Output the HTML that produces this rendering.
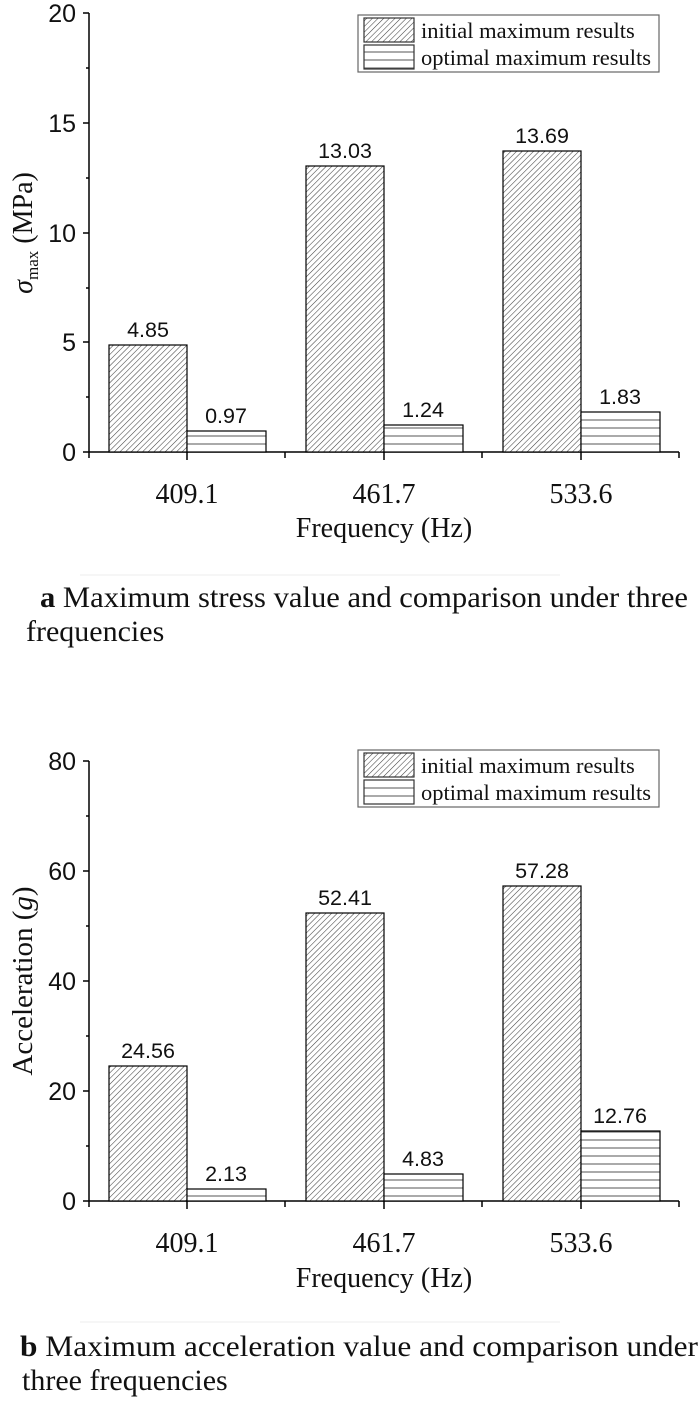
<!DOCTYPE html>
<html><head><meta charset="utf-8"><style>
body{margin:0;background:#fff;overflow:hidden}
svg{display:block}
.s{font-family:"Liberation Sans",sans-serif}
.r{font-family:"Liberation Serif",serif}
</style></head><body>
<svg width="700" height="1414" viewBox="0 0 700 1414" xmlns="http://www.w3.org/2000/svg">
<defs>
<pattern id="d" patternUnits="userSpaceOnUse" width="4" height="4" patternTransform="rotate(45)">
<rect width="4" height="4" fill="#fff"/><line x1="0" y1="0" x2="0" y2="4" stroke="#444" stroke-width="1.1"/>
</pattern>
<pattern id="h" patternUnits="userSpaceOnUse" width="8" height="8" y="0">
<rect width="8" height="8" fill="#fff"/><line x1="0" y1="4" x2="8" y2="4" stroke="#555" stroke-width="1"/>
</pattern>
</defs>
<g stroke="#000" stroke-width="1.5" fill="none">
<line x1="89" y1="13" x2="89" y2="452"/>
<line x1="89" y1="452" x2="679" y2="452"/>
<line x1="83" y1="13" x2="89" y2="13"/><line x1="83" y1="123" x2="89" y2="123"/><line x1="83" y1="233" x2="89" y2="233"/><line x1="83" y1="342" x2="89" y2="342"/><line x1="83" y1="452" x2="89" y2="452"/>
<line x1="86" y1="68" x2="89" y2="68"/><line x1="86" y1="178" x2="89" y2="178"/><line x1="86" y1="288" x2="89" y2="288"/><line x1="86" y1="397" x2="89" y2="397"/>
<line x1="89" y1="452" x2="89" y2="458"/><line x1="187" y1="452" x2="187" y2="460"/><line x1="285" y1="452" x2="285" y2="458"/><line x1="384" y1="452" x2="384" y2="460"/><line x1="482" y1="452" x2="482" y2="458"/><line x1="581" y1="452" x2="581" y2="460"/><line x1="679" y1="452" x2="679" y2="458"/>
<line x1="89" y1="761" x2="89" y2="1201"/>
<line x1="89" y1="1201" x2="679" y2="1201"/>
<line x1="83" y1="761" x2="89" y2="761"/><line x1="83" y1="871" x2="89" y2="871"/><line x1="83" y1="981" x2="89" y2="981"/><line x1="83" y1="1091" x2="89" y2="1091"/><line x1="83" y1="1201" x2="89" y2="1201"/>
<line x1="86" y1="816" x2="89" y2="816"/><line x1="86" y1="926" x2="89" y2="926"/><line x1="86" y1="1036" x2="89" y2="1036"/><line x1="86" y1="1146" x2="89" y2="1146"/>
<line x1="89" y1="1201" x2="89" y2="1207"/><line x1="187" y1="1201" x2="187" y2="1209"/><line x1="285" y1="1201" x2="285" y2="1207"/><line x1="384" y1="1201" x2="384" y2="1209"/><line x1="482" y1="1201" x2="482" y2="1207"/><line x1="581" y1="1201" x2="581" y2="1209"/><line x1="679" y1="1201" x2="679" y2="1207"/>
</g>
<g stroke="#000" stroke-width="1.2">
<rect x="109" y="345" width="78" height="107" fill="url(#d)"/>
<rect x="187" y="431" width="79" height="21" fill="url(#h)"/>
<rect x="306" y="166" width="78" height="286" fill="url(#d)"/>
<rect x="384" y="425" width="79" height="27" fill="url(#h)"/>
<rect x="503" y="151" width="78" height="301" fill="url(#d)"/>
<rect x="581" y="412" width="79" height="40" fill="url(#h)"/>
<rect x="109" y="1066" width="78" height="135" fill="url(#d)"/>
<rect x="187" y="1189" width="79" height="12" fill="url(#h)"/>
<rect x="306" y="913" width="78" height="288" fill="url(#d)"/>
<rect x="384" y="1174" width="79" height="27" fill="url(#h)"/>
<rect x="503" y="886" width="78" height="315" fill="url(#d)"/>
<rect x="581" y="1131" width="79" height="70" fill="url(#h)"/>
</g>
<g stroke-width="1.2">
<rect x="358" y="15" width="301" height="57" fill="#fff" stroke="#666"/>
<rect x="364" y="18" width="50" height="24" fill="url(#d)" stroke="#333"/>
<rect x="364" y="45" width="50" height="24" fill="url(#h)" stroke="#333"/>
<rect x="358" y="750" width="301" height="57" fill="#fff" stroke="#666"/>
<rect x="364" y="753" width="50" height="24" fill="url(#d)" stroke="#333"/>
<rect x="364" y="780" width="50" height="24" fill="url(#h)" stroke="#333"/>
</g>
<g class="r" font-size="22.5" fill="#111">
<text x="421" y="38">initial maximum results</text>
<text x="421" y="65">optimal maximum results</text>
<text x="421" y="773">initial maximum results</text>
<text x="421" y="800">optimal maximum results</text>
</g>
<g class="s" font-size="25" fill="#111" text-anchor="end">
<text x="76" y="22">20</text><text x="76" y="132">15</text><text x="76" y="242">10</text><text x="76" y="351">5</text><text x="76" y="461">0</text>
<text x="76" y="770">80</text><text x="76" y="880">60</text><text x="76" y="990">40</text><text x="76" y="1100">20</text><text x="76" y="1210">0</text>
</g>
<g class="s" font-size="21.5" fill="#111" text-anchor="middle">
<text x="148" y="337">4.85</text><text x="226" y="423">0.97</text>
<text x="345" y="158">13.03</text><text x="423" y="417">1.24</text>
<text x="542" y="143">13.69</text><text x="620" y="404">1.83</text>
<text x="148" y="1058">24.56</text><text x="226" y="1181">2.13</text>
<text x="345" y="905">52.41</text><text x="423" y="1166">4.83</text>
<text x="542" y="878">57.28</text><text x="620" y="1123">12.76</text>
</g>
<g class="r" font-size="28" fill="#111" text-anchor="middle">
<text x="187" y="503">409.1</text><text x="384" y="503">461.7</text><text x="581" y="503">533.6</text>
<text x="384" y="537">Frequency (Hz)</text>
<text x="187" y="1252">409.1</text><text x="384" y="1252">461.7</text><text x="581" y="1252">533.6</text>
<text x="384" y="1287">Frequency (Hz)</text>
<text transform="translate(32,233) rotate(-90)" font-size="28"><tspan font-style="italic">σ</tspan><tspan font-size="17" dy="6">max</tspan><tspan dy="-6"> (MPa)</tspan></text>
<text transform="translate(32,981) rotate(-90)" font-size="29">Acceleration (<tspan font-style="italic">g</tspan>)</text>
</g>
<line x1="80" y1="575" x2="560" y2="575" stroke="#eee" stroke-width="1"/>
<line x1="80" y1="1322" x2="560" y2="1322" stroke="#eee" stroke-width="1"/>
<g class="r" font-size="30" fill="#111">
<text x="40" y="607" textLength="648" lengthAdjust="spacingAndGlyphs"><tspan font-weight="bold">a</tspan> Maximum stress value and comparison under three</text>
<text x="26" y="641">frequencies</text>
<text x="20" y="1356" textLength="678" lengthAdjust="spacingAndGlyphs"><tspan font-weight="bold">b</tspan> Maximum acceleration value and comparison under</text>
<text x="22" y="1390">three frequencies</text>
</g>
</svg>
</body></html>
